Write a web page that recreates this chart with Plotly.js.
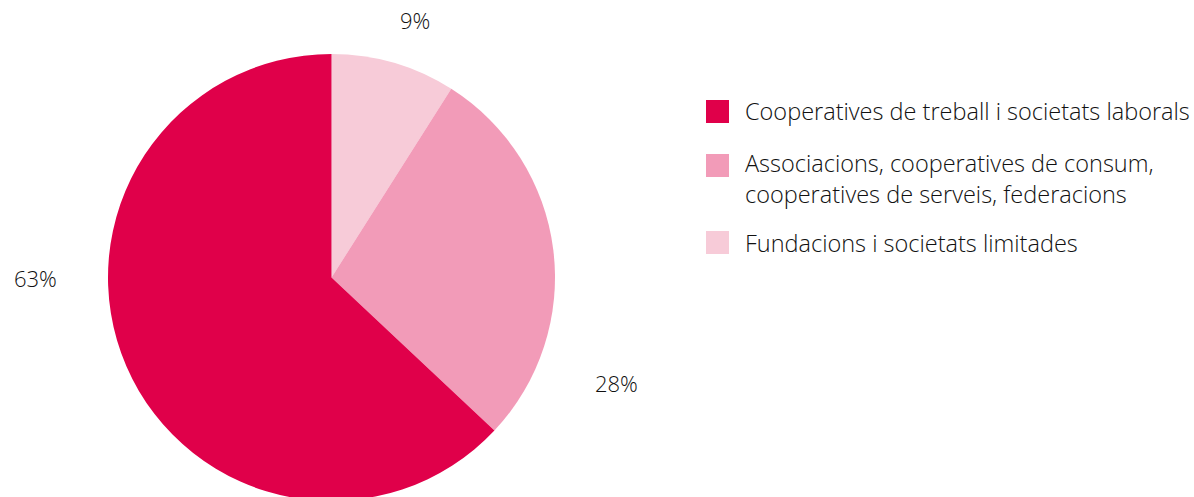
<!DOCTYPE html>
<html>
<head>
<meta charset="utf-8">
<script src="https://cdn.plot.ly/plotly-3.0.1.min.js"></script>
<style>
html,body{margin:0;padding:0;overflow:hidden;background:#fff;}
#chart{width:1194px;height:505px;}
</style>
</head>
<body>
<div id="chart"></div>
<script>
var categories = [
  "Cooperatives de treball i societats laborals",
  "Associacions, cooperatives de consum, cooperatives de serveis, federacions",
  "Fundacions i societats limitades"
];
var legendLabels = [
  "Cooperatives de treball i societats laborals",
  "Associacions, cooperatives de consum,<br>cooperatives de serveis, federacions",
  "Fundacions i societats limitades"
];
var values = [63, 28, 9];
var colors = ["#e0004a", "#f29bb8", "#f7cbd8"];

var FONT = "'Open Sans', Lato, sans-serif";
var W = 1194, H = 505;

// slices drawn clockwise from 12 o'clock in reverse legend order
var trace = {
  type: "pie",
  labels: categories.slice().reverse(),
  values: values.slice().reverse(),
  sort: false,
  direction: "clockwise",
  rotation: 0,
  marker: {colors: colors.slice().reverse(), line: {width: 0}},
  textinfo: "none",
  hoverinfo: "label+percent",
  showlegend: false,
  domain: {x: [108 / W, 555 / W], y: [(H - 501) / H, (H - 54) / H]}
};

// percentage labels placed beside slices
var pctPos = [[35, 278], [616, 383], [415, 20]];
var annotations = [];
var shapes = [];
values.forEach(function (v, i) {
  annotations.push({
    xref: "paper", yref: "paper",
    x: pctPos[i][0] / W, y: 1 - pctPos[i][1] / H,
    xanchor: "center", yanchor: "middle",
    showarrow: false,
    text: v + "%",
    font: {family: FONT, size: 22, color: "#111", weight: 300}
  });
});

// custom legend
var legY = [111, 178.5, 243];
var swY = [111.5, 165.5, 242.5];
legendLabels.forEach(function (lab, i) {
  shapes.push({
    type: "rect", xref: "paper", yref: "paper",
    x0: 706 / W, x1: 729 / W,
    y0: 1 - (swY[i] - 11.5) / H, y1: 1 - (swY[i] + 11.5) / H,
    fillcolor: colors[i], line: {width: 0}
  });
  annotations.push({
    xref: "paper", yref: "paper",
    x: 743 / W, y: 1 - legY[i] / H,
    xanchor: "left", yanchor: "middle", align: "left",
    showarrow: false,
    text: lab,
    font: {family: FONT, size: 23.5, color: "#111", weight: 300}
  });
});

var layout = {
  width: W, height: H,
  margin: {l: 0, r: 0, t: 0, b: 0},
  paper_bgcolor: "#fff",
  showlegend: false,
  annotations: annotations,
  shapes: shapes
};

Plotly.newPlot("chart", [trace], layout, {displayModeBar: false, staticPlot: true});
</script>
</body>
</html>
